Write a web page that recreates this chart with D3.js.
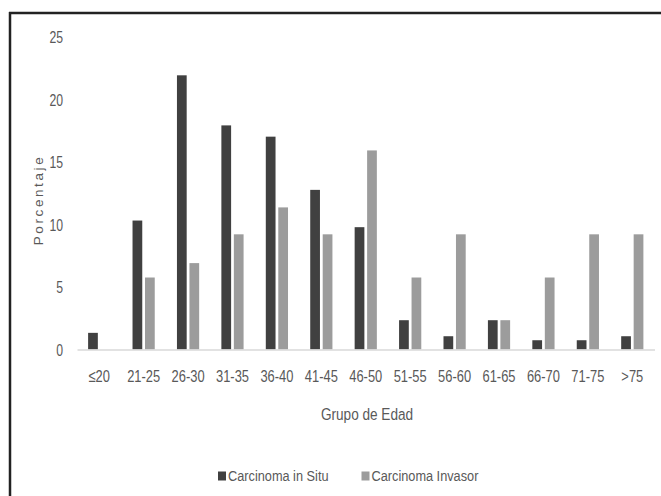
<!DOCTYPE html>
<html>
<head>
<meta charset="utf-8">
<script src="https://cdn.jsdelivr.net/npm/d3@7"></script>
<style>
  html, body { margin: 0; padding: 0; background: #fff; }
  svg { display: block; }
</style>
</head>
<body>
<svg id="chart" width="661" height="496"></svg>
<script>
const categories = ["\u226420", "21-25", "26-30", "31-35", "36-40", "41-45", "46-50", "51-55", "56-60", "61-65", "66-70", "71-75", ">75"];
const seriesNames = ["Carcinoma in Situ", "Carcinoma Invasor"];
const inSitu  = [1.33, 10.3, 21.9, 17.9, 17.0, 12.75, 9.77, 2.34, 1.06, 2.34, 0.74, 0.74, 1.06];
const invasor = [0,    5.75, 6.9,  9.2,  11.35, 9.2,  15.9, 5.75, 9.2,  2.34, 5.75, 9.2,  9.2];
const yTicks = [0, 5, 10, 15, 20, 25];
const colors = ["#404040", "#9c9c9c"];

const svg = d3.select("#chart");
const FONT = "'Liberation Sans', Arial, sans-serif";
const TXT = "#595959";

// frame (top and left edges visible)
svg.append("line").attr("x1", 9).attr("x2", 661).attr("y1", 13).attr("y2", 13)
  .attr("stroke", "#222").attr("stroke-width", 2.5);
svg.append("line").attr("x1", 10).attr("x2", 10).attr("y1", 12).attr("y2", 496)
  .attr("stroke", "#222").attr("stroke-width", 2.5);

const x0 = d3.scaleBand().domain(categories).range([77, 654.5]).paddingInner(0.5).paddingOuter(0.25);
const x1 = d3.scaleBand().domain(seriesNames).range([0, x0.bandwidth()]).paddingInner(0.22).paddingOuter(0);
const y = d3.scaleLinear().domain([0, 25]).range([349.5, 36.5]);

const rows = categories.map((c, i) => ({cat: c, vals: [inSitu[i], invasor[i]]}));

const g = svg.append("g");
rows.forEach(r => {
  r.vals.forEach((v, j) => {
    if (v <= 0) return;
    g.append("rect")
      .attr("x", x0(r.cat) + x1(seriesNames[j]))
      .attr("y", y(v))
      .attr("width", x1.bandwidth())
      .attr("height", y(0) - y(v))
      .attr("fill", colors[j]);
  });
});

// baseline axis
const xAxis = d3.axisBottom(x0).tickSize(0).tickPadding(0);
const gx = svg.append("g").attr("transform", `translate(0,${y(0)})`).call(xAxis);
gx.select(".domain").attr("stroke", "#d9d9d9").attr("stroke-width", 1.5);
gx.selectAll("text").attr("y", 0).attr("dy", "0.35em")
  .attr("transform", "translate(0,27) scale(0.76,1)")
  .attr("fill", TXT).style("font-family", FONT).style("font-size", "17px");

const yAxis = d3.axisLeft(y).tickValues(yTicks).tickSize(0).tickPadding(0);
const gy = svg.append("g").attr("transform", "translate(63,0)").call(yAxis);
gy.select(".domain").remove();
gy.selectAll("text").attr("x", 0).attr("dy", "0.35em").attr("text-anchor", "end")
  .attr("transform", "scale(0.72,1)")
  .attr("fill", TXT).style("font-family", FONT).style("font-size", "17px");

// axis titles
svg.append("text").attr("transform", "translate(367,414) scale(0.8,1)").attr("dy", "0.35em")
  .attr("text-anchor", "middle").attr("fill", TXT)
  .style("font-family", FONT).style("font-size", "17px").text("Grupo de Edad");

svg.append("text").attr("transform", "translate(38,200) rotate(-90)")
  .attr("dy", "0.35em").attr("text-anchor", "middle").attr("fill", TXT)
  .style("font-family", FONT)
  .style("font-size", "13.5px").style("letter-spacing", "2.6px").text("Porcentaje");

// legend
const legendX = [218, 361.5];
seriesNames.forEach((s, j) => {
  svg.append("rect").attr("x", legendX[j]).attr("y", 471.5).attr("width", 8).attr("height", 9).attr("fill", colors[j]);
  svg.append("text").attr("transform", `translate(${legendX[j] + 10},476) scale(0.85,1)`).attr("dy", "0.35em")
    .attr("fill", TXT).style("font-family", FONT).style("font-size", "15px").text(s);
});
</script>
</body>
</html>
